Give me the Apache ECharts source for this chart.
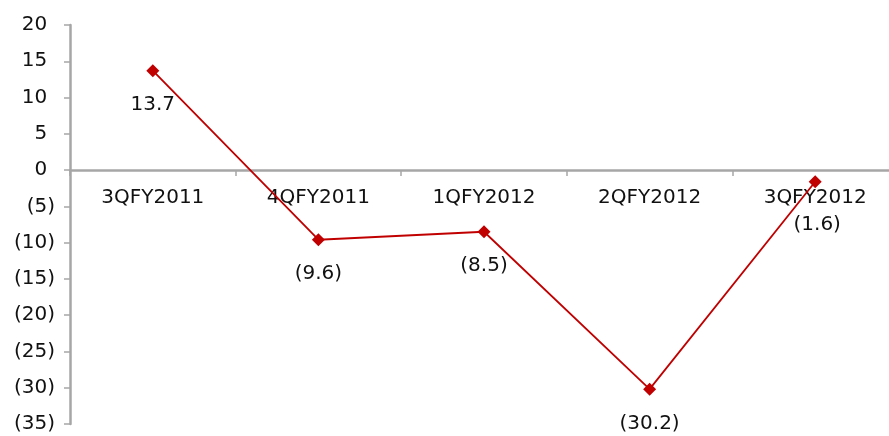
<!DOCTYPE html>
<html>
<head>
<meta charset="utf-8">
<script src="https://cdn.jsdelivr.net/npm/echarts@6/dist/echarts.min.js"></script>
<style>
  html, body { margin: 0; padding: 0; background: #fff; }
  #chart { width: 889px; height: 436px; }
</style>
</head>
<body>
<div id="chart"></div>
<script>
// Quarterly growth figures (%)
const quarters = ['3QFY2011', '4QFY2011', '1QFY2012', '2QFY2012', '3QFY2012'];
const growth = [13.7, -9.6, -8.5, -30.2, -1.6];
const yMin = -35;
const yMax = 20;
const yStep = 5;

const FONT = 'DejaVu Sans';
const FS = 20;

// Accounting-style number: negatives in parentheses
function fmt(v, digits) {
  const s = Math.abs(v).toFixed(digits);
  return v < 0 ? '(' + s + ')' : s;
}

const chart = echarts.init(document.getElementById('chart'));

chart.setOption({
  animation: false,
  backgroundColor: '#ffffff',
  grid: {
    left: 70, top: 25, width: 828, bottom: 12,
    containLabel: false,
    outerBoundsMode: 'none'
  },
  xAxis: {
    type: 'category',
    data: quarters,
    boundaryGap: true,
    axisLine: { onZero: true, lineStyle: { color: '#a6a6a6', width: 2.5 } },
    axisTick: { show: true, length: 6, lineStyle: { color: '#a6a6a6', width: 1.5 } },
    axisLabel: { show: false },
    splitLine: { show: false }
  },
  yAxis: {
    type: 'value',
    min: yMin,
    max: yMax,
    interval: yStep,
    axisLine: { show: true, onZero: false, lineStyle: { color: '#a6a6a6', width: 2.5 } },
    axisTick: { show: true, length: 6, lineStyle: { color: '#a6a6a6', width: 1.5 } },
    splitLine: { show: false },
    axisLabel: {
      margin: 15,
      fontFamily: FONT,
      fontSize: FS,
      color: '#111',
      formatter: function (v) {
        // keep digits aligned: positives carry an invisible closing paren
        return v < 0 ? '{n|' + fmt(v, 0) + '}' : '{n|' + v + '}{h|)}';
      },
      rich: {
        n: { fontFamily: FONT, fontSize: FS, color: '#111' },
        h: { fontFamily: FONT, fontSize: FS, color: 'rgba(0,0,0,0)' }
      }
    }
  },
  series: [
    {
      // category names sitting just under the zero line
      type: 'scatter',
      silent: true,
      symbolSize: 0,
      itemStyle: { opacity: 1 },
      data: quarters.map(function (q) { return [q, 0]; }),
      label: {
        show: true,
        position: 'bottom',
        distance: 18,
        color: '#111',
        opacity: 1,
        fontFamily: FONT,
        fontSize: FS,
        formatter: function (p) { return p.value[0]; }
      },
      z: 1
    },
    {
      type: 'line',
      data: growth.map(function (v, i) {
        const item = { value: v };
        if (i === growth.length - 1) {
          item.label = { offset: [2, 9] };
        }
        return item;
      }),
      symbol: 'path://M0,-1L1,0L0,1L-1,0Z',
      symbolSize: 13,
      itemStyle: { color: '#c00000' },
      lineStyle: { color: '#c00000', width: 1.8 },
      label: {
        show: true,
        position: 'bottom',
        distance: 18,
        color: '#111',
        fontFamily: FONT,
        fontSize: FS,
        formatter: function (p) { return fmt(p.value, 1); }
      },
      z: 3
    }
  ]
});
</script>
</body>
</html>
